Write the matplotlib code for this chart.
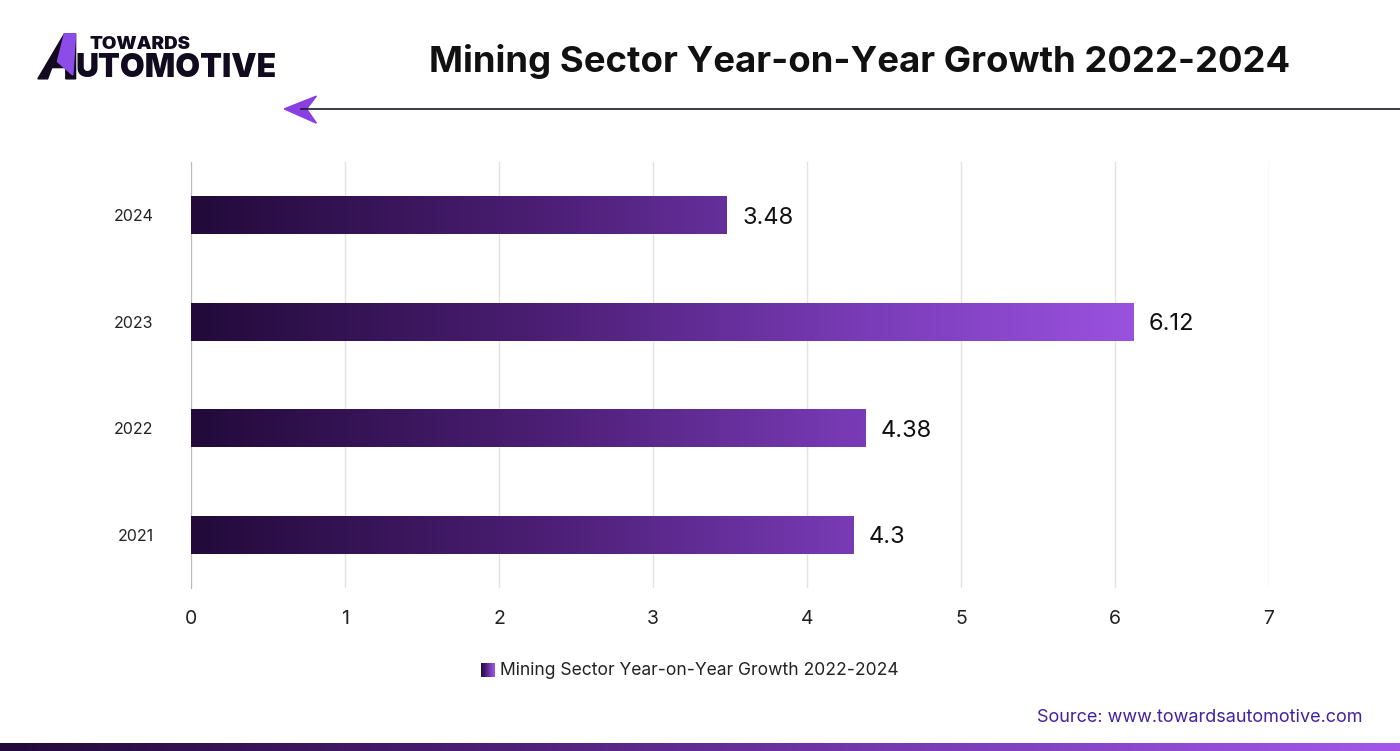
import numpy as np
import matplotlib.pyplot as plt
from matplotlib.colors import LinearSegmentedColormap
from matplotlib.patches import Polygon, Rectangle

plt.rcParams['font.family'] = ['Inter', 'DejaVu Sans']

years = ['2021', '2022', '2023', '2024']
growth = [4.3, 4.38, 6.12, 3.48]
x_ticks = [0, 1, 2, 3, 4, 5, 6, 7]
title = 'Mining Sector Year-on-Year Growth 2022-2024'

cmap = LinearSegmentedColormap.from_list('bars', ['#220a3a', '#4a1d72', '#7a3cb8', '#a257ea'])
grad = np.linspace(0, 1, 256).reshape(1, -1)

fig = plt.figure(figsize=(14, 7.51), dpi=100)
ax = fig.add_axes([0.1364, 0.217, 0.77, 0.5673])

bar_h = 0.36
for i, v in enumerate(growth):
    r = Rectangle((0, i - bar_h / 2), v, bar_h, transform=ax.transData)
    im = ax.imshow(grad, cmap=cmap, aspect='auto', extent=[0, 6.6, i - bar_h / 2, i + bar_h / 2],
                   zorder=3)
    im.set_clip_path(r)
    ax.text(v + 0.1, i, f'{v:g}', va='center_baseline', ha='left', fontsize=17, color='#111111', zorder=4)

ax.set_xlim(0, 7)
ax.set_ylim(-0.5, 3.5)
ax.set_xticks(x_ticks)
ax.set_xticklabels([str(t) for t in x_ticks], fontsize=14, color='#222222')
ax.set_yticks(range(len(years)))
ax.set_yticklabels(years, fontsize=11.5, color='#222222')
ax.tick_params(length=0, pad=16)
ax.tick_params(axis='y', pad=27)
ax.grid(axis='x', color='#e3e3e3', lw=1, zorder=0)
for s in ['top', 'right', 'bottom']:
    ax.spines[s].set_visible(False)
ax.spines['left'].set_color('#bbbbbb')

# title and header line
fig.text(0.6143, 0.918, title, ha='center', va='center', fontsize=26.3, fontweight='bold', color='#111111')
fig.add_artist(plt.Line2D([0.215, 1.0], [0.855, 0.855], transform=fig.transFigure, color='#1a1a2a', lw=1.2))
fig.add_artist(Polygon([[0.203, 0.855], [0.226, 0.872], [0.219, 0.855], [0.226, 0.836]],
                       closed=True, transform=fig.transFigure, color='#8a3fe0'))

# logo
fig.add_artist(Polygon([[0.027, 0.895], [0.046, 0.955], [0.054, 0.955], [0.054, 0.895], [0.047, 0.895],
                        [0.047, 0.91], [0.037, 0.91], [0.034, 0.895]],
                       closed=True, transform=fig.transFigure, color='#120a1e'))
fig.add_artist(Polygon([[0.046, 0.955], [0.054, 0.955], [0.052, 0.9], [0.041, 0.918]],
                       closed=True, transform=fig.transFigure, color='#8b4ce8'))
fig.text(0.064, 0.941, 'TOWARDS', fontsize=13.5, fontweight='black', color='#120a1e', va='center')
fig.text(0.054, 0.909, 'UTOMOTIVE', fontsize=23, fontweight='black', color='#120a1e', va='center')

# legend
lax = fig.add_axes([0.3436, 0.0985, 0.0093, 0.0186])
lax.imshow(grad, cmap=cmap, aspect='auto')
lax.axis('off')
fig.text(0.357, 0.107, title, fontsize=12.6, color='#222222', va='center')

# source and bottom strip
fig.text(0.973, 0.044, 'Source: www.towardsautomotive.com', ha='right', va='center', fontsize=13,
         color='#4422a0')
bax = fig.add_axes([0, 0, 1, 0.011])
bax.imshow(grad, cmap=cmap, aspect='auto')
bax.axis('off')

fig.savefig('out.png', dpi=100)
